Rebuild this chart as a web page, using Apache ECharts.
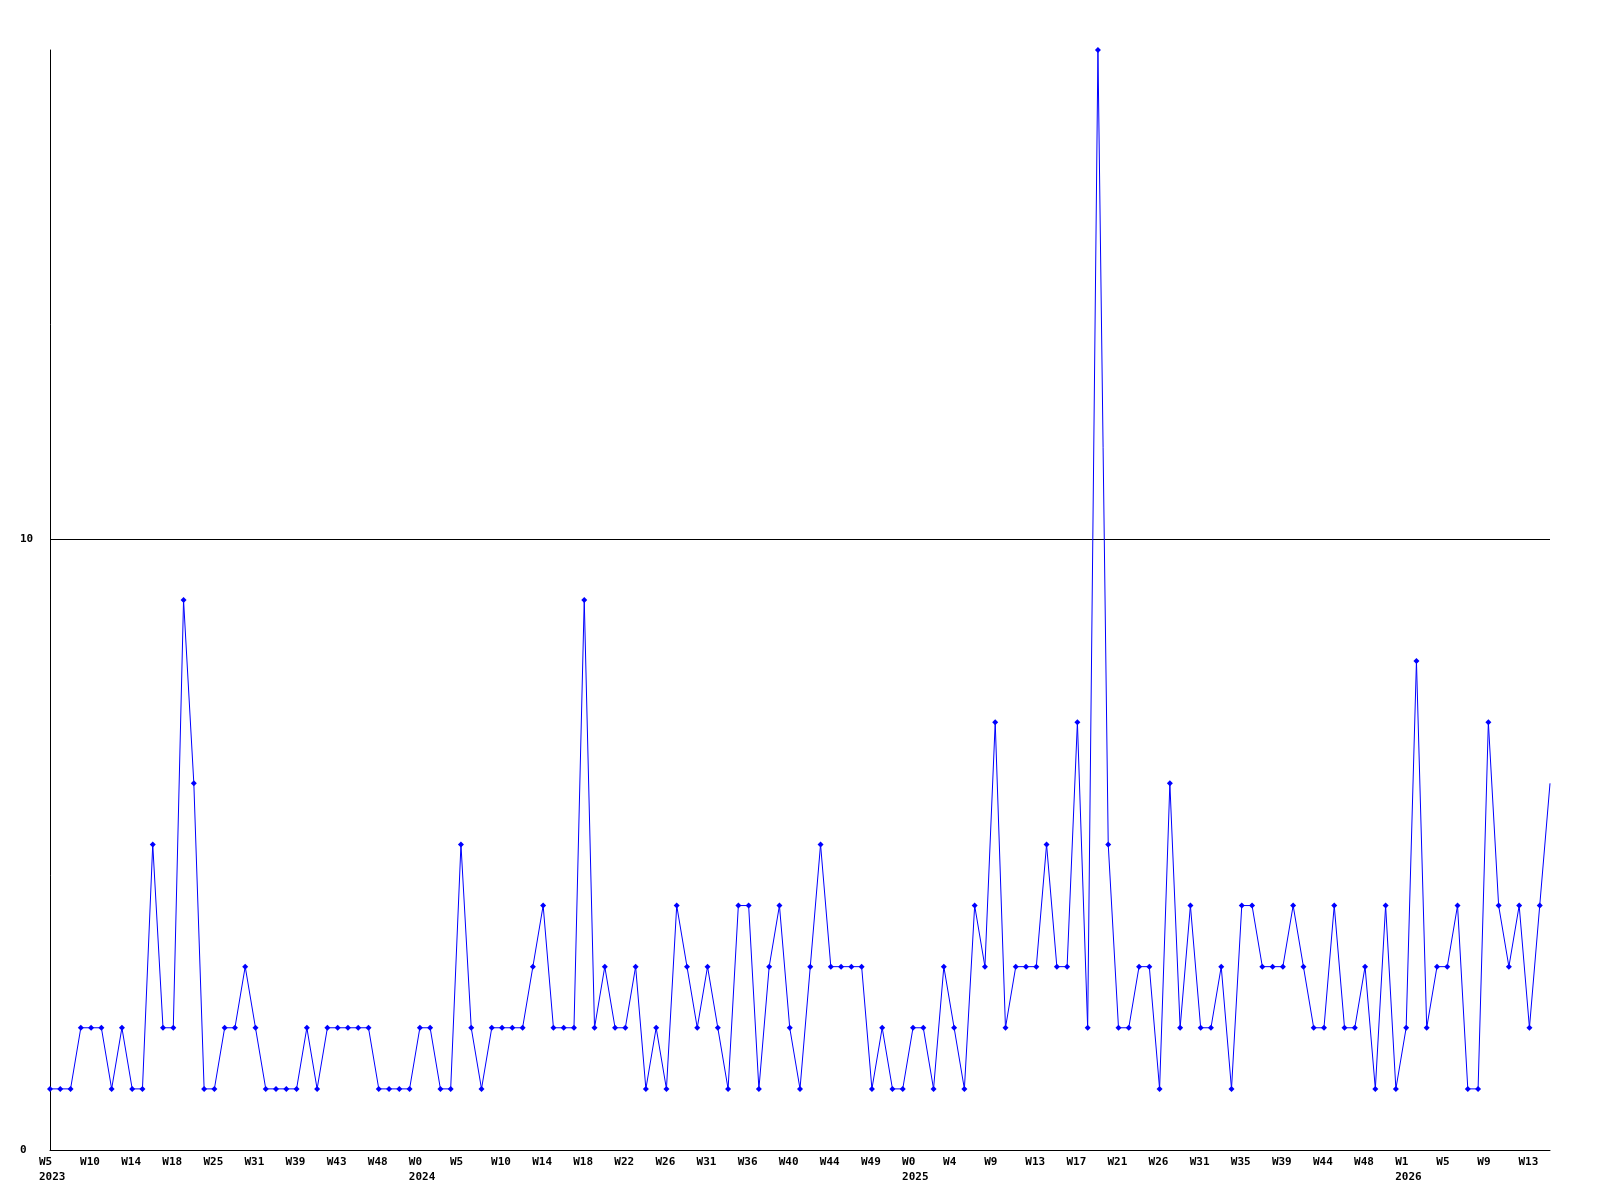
<!DOCTYPE html>
<html>
<head>
<meta charset="utf-8">
<style>html,body{margin:0;padding:0;background:#fff}#chart{width:1600px;height:1200px}</style>
<script src="https://cdn.jsdelivr.net/npm/echarts@6/dist/echarts.min.js"></script>
</head>
<body>
<div id="chart"></div>
<script>
// Tick labels, one for every 4th data point
var tickLabels = [
  'W5\n2023','W10','W14','W18','W25','W31','W39','W43','W48',
  'W0\n2024','W5','W10','W14','W18','W22','W26','W31','W36','W40','W44','W49',
  'W0\n2025','W4','W9','W13','W17','W21','W26','W31','W35','W39','W44','W48',
  'W1\n2026','W5','W9','W13'
];
// Weekly values
var values = [
  1,1,1,2,2,2,1,2,1,1, 5,2,2,9,6,1,1,2,2,3,
  2,1,1,1,1,2,1,2,2,2, 2,2,1,1,1,1,2,2,1,1,
  5,2,1,2,2,2,2,3,4,2, 2,2,9,2,3,2,2,3,1,2,
  1,4,3,2,3,2,1,4,4,1, 3,4,2,1,3,5,3,3,3,3,
  1,2,1,1,2,2,1,3,2,1, 4,3,7,2,3,3,3,5,3,3,
  7,2,18,5,2,2,3,3,1,6, 2,4,2,2,3,1,4,4,3,3,
  3,4,3,2,2,4,2,2,3,1, 4,1,2,8,2,3,3,4,1,1,
  7,4,3,4,2,4,6
];
var categories = values.map(function (v, i) {
  return (i % 4 === 0 && tickLabels[i / 4] !== undefined) ? tickLabels[i / 4] : '';
});
var seriesData = values.map(function (v, i) {
  return i === values.length - 1 ? { value: v, symbol: 'none' } : v;
});

var font = '"DejaVu Sans Mono", monospace';
var chart = echarts.init(document.getElementById('chart'), null, { renderer: 'canvas' });
chart.setOption({
  animation: false,
  backgroundColor: '#ffffff',
  grid: { left: 50, right: 50, top: 50, bottom: 50, containLabel: false },
  xAxis: {
    type: 'category',
    data: categories,
    boundaryGap: false,
    axisLine: { show: true, lineStyle: { color: '#000', width: 1 } },
    axisTick: { show: false },
    splitLine: { show: false },
    axisLabel: {
      interval: 3,
      margin: 5,
      align: 'center',
      formatter: function (val) {
        if (!val) return '';
        return val.split('\n').map(function (s) { return '{a|' + s + '}'; }).join('\n');
      },
      rich: {
        a: { width: 22, align: 'left', fontFamily: font, fontWeight: 'bold', fontSize: 11, color: '#000', lineHeight: 15 }
      }
    }
  },
  yAxis: {
    type: 'value',
    min: 0,
    max: 18,
    interval: 10,
    axisLine: { show: true, lineStyle: { color: '#000', width: 1 } },
    axisTick: { show: false },
    axisLabel: {
      showMaxLabel: false,
      margin: 30,
      align: 'left',
      fontFamily: font,
      fontWeight: 'bold',
      fontSize: 11,
      color: '#000'
    },
    splitLine: { show: true, lineStyle: { color: ['#000', '#000', 'rgba(0,0,0,0)'], width: 1 } }
  },
  series: [{
    type: 'line',
    data: seriesData,
    symbol: 'diamond',
    symbolSize: 6,
    showAllSymbol: true,
    lineStyle: { color: '#0000ff', width: 1 },
    itemStyle: { color: '#0000ff' },
    clip: false
  }]
});
</script>
</body>
</html>
